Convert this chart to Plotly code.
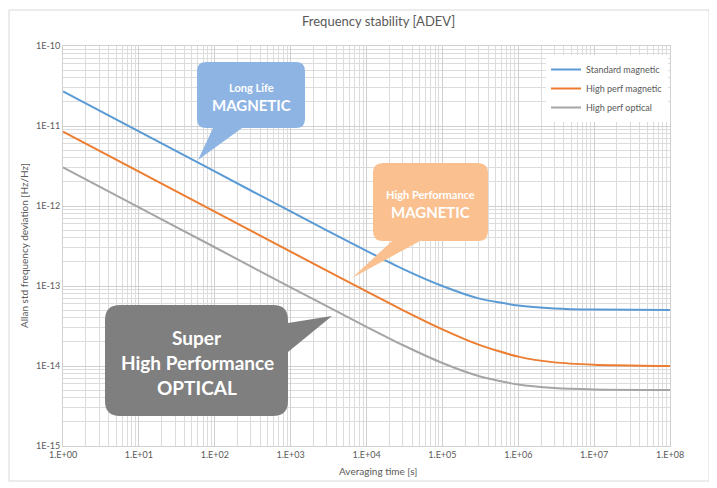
import plotly.graph_objects as go

# ---- data ----
tau = [1, 10, 100, 1e3, 1e4, 3e4, 1e5, 3e5, 1e6, 3e6, 1e7, 1e8]
standard_magnetic = [2.7e-11, 8.54e-12, 2.7e-12, 8.54e-13, 2.75e-13, 1.64e-13, 1.0e-13, 7.0e-14, 5.7e-14, 5.24e-14, 5.07e-14, 5.0e-14]
high_perf_magnetic = [8.5e-12, 2.69e-12, 8.5e-13, 2.69e-13, 8.56e-14, 5.0e-14, 2.87e-14, 1.85e-14, 1.31e-14, 1.11e-14, 1.04e-14, 1.0e-14]
high_perf_optical = [3.05e-12, 9.6e-13, 3.05e-13, 9.6e-14, 3.09e-14, 1.83e-14, 1.09e-14, 7.5e-15, 5.86e-15, 5.3e-15, 5.09e-15, 5.0e-15]

series_names = ["Standard magnetic", "High perf magnetic", "High perf optical"]
series_colors = ["#5B9BD5", "#ED7D31", "#A5A5A5"]

x_tickvals = [1, 10, 100, 1e3, 1e4, 1e5, 1e6, 1e7, 1e8]
x_ticktext = ["1.E+00", "1.E+01", "1.E+02", "1.E+03", "1.E+04", "1.E+05", "1.E+06", "1.E+07", "1.E+08"]
y_tickvals = [1e-15, 1e-14, 1e-13, 1e-12, 1e-11, 1e-10]
y_ticktext = ["1E-15", "1E-14", "1E-13", "1E-12", "1E-11", "1E-10"]

OFF = 8  # default page body margin
W, H = 717 - OFF, 488 - OFF
L, R, T, B = 63, 670, 46, 446  # plot area in page pixels

def px(x):
    return (x - L) / (R - L)

def py(y):
    return (B - y) / (B - T)

FONT = "Lato, Open Sans, sans-serif"
TXT = "#595959"

fig = go.Figure()
for name, vals, col in zip(series_names, [standard_magnetic, high_perf_magnetic, high_perf_optical], series_colors):
    fig.add_trace(go.Scatter(x=tau, y=vals, mode="lines", name=name,
                             line=dict(color=col, width=2, shape="spline", smoothing=0.6)))

def callout(rect, r, pointer, color, side="bottom"):
    x0, y0, x1, y1 = rect
    if side == "bottom":
        (bx0, bx1), tip = pointer
        pts = (f"M {px(x0+r)} {py(y0)} L {px(x1-r)} {py(y0)} Q {px(x1)} {py(y0)} {px(x1)} {py(y0+r)} "
               f"L {px(x1)} {py(y1-r)} Q {px(x1)} {py(y1)} {px(x1-r)} {py(y1)} "
               f"L {px(bx1)} {py(y1)} L {px(tip[0])} {py(tip[1])} L {px(bx0)} {py(y1)} "
               f"L {px(x0+r)} {py(y1)} Q {px(x0)} {py(y1)} {px(x0)} {py(y1-r)} "
               f"L {px(x0)} {py(y0+r)} Q {px(x0)} {py(y0)} {px(x0+r)} {py(y0)} Z")
    else:
        (by0, by1), tip = pointer
        pts = (f"M {px(x0+r)} {py(y0)} L {px(x1-r)} {py(y0)} Q {px(x1)} {py(y0)} {px(x1)} {py(y0+r)} "
               f"L {px(x1)} {py(by0)} L {px(tip[0])} {py(tip[1])} L {px(x1)} {py(by1)} "
               f"L {px(x1)} {py(y1-r)} Q {px(x1)} {py(y1)} {px(x1-r)} {py(y1)} "
               f"L {px(x0+r)} {py(y1)} Q {px(x0)} {py(y1)} {px(x0)} {py(y1-r)} "
               f"L {px(x0)} {py(y0+r)} Q {px(x0)} {py(y0)} {px(x0+r)} {py(y0)} Z")
    fig.add_shape(type="path", xref="paper", yref="paper", path=pts,
                  fillcolor=color, line=dict(width=0), layer="above")

callout((197, 62, 305, 128), 9, ((213, 242), (198, 160)), "#8EB4E3")
callout((373, 163, 488, 241), 10, ((392, 420), (352, 278)), "#FAC090")
callout((105, 305, 288, 416), 15, ((323, 352), (332, 316)), "#7F7F7F", side="right")

def label(x, y, text, size):
    fig.add_annotation(x=px(x), y=py(y), xref="paper", yref="paper", text=text, showarrow=False,
                       font=dict(family=FONT, size=size, color="white", weight="bold"),
                       xanchor="center", yanchor="middle")

label(251, 87, "Long Life", 11)
label(251, 105, "MAGNETIC", 15)
label(430, 194, "High Performance", 11)
label(430, 212, "MAGNETIC", 15)
label(197, 337, "Super", 19)
label(197, 362, "High Performance", 19)
label(197, 387, "OPTICAL", 19)

# outer chart border
fig.add_shape(type="rect", xref="paper", yref="paper", x0=px(9), x1=px(709), y0=py(481), y1=py(10),
              line=dict(color="#D9D9D9", width=1), fillcolor="rgba(0,0,0,0)", layer="below")

# titles
fig.add_annotation(x=px(378), y=py(21), xref="paper", yref="paper", text="Frequency stability [ADEV]",
                   showarrow=False, font=dict(family=FONT, size=13, color=TXT), xanchor="center", yanchor="middle")
fig.add_annotation(x=px(378), y=py(471), xref="paper", yref="paper", text="Averaging time [s]",
                   showarrow=False, font=dict(family=FONT, size=10, color=TXT), xanchor="center", yanchor="middle")
fig.add_annotation(x=px(24), y=py(246), xref="paper", yref="paper", text="Allan std frequency deviation [Hz/Hz]",
                   showarrow=False, textangle=-90, font=dict(family=FONT, size=10, color=TXT),
                   xanchor="center", yanchor="middle")

grid_major = "#D0D0D0"
grid_minor = "#DCDCDC"
fig.update_xaxes(type="log", range=[0, 8], tickvals=x_tickvals, ticktext=x_ticktext,
                 showgrid=True, gridcolor=grid_major, gridwidth=1, zeroline=False,
                 showline=True, linecolor=grid_major, mirror=True,
                 tickfont=dict(family=FONT, size=9, color=TXT), ticks="",
                 minor=dict(dtick="D1", showgrid=True, gridcolor=grid_minor, ticks=""))
fig.update_yaxes(type="log", range=[-15, -10], tickvals=y_tickvals, ticktext=y_ticktext,
                 showgrid=True, gridcolor=grid_major, gridwidth=1, zeroline=False,
                 showline=True, linecolor=grid_major, mirror=True,
                 tickfont=dict(family=FONT, size=9, color=TXT), ticks="",
                 minor=dict(dtick="D1", showgrid=True, gridcolor=grid_minor, ticks=""))

fig.update_layout(
    width=W, height=H,
    margin=dict(l=L - OFF, r=W - (R - OFF), t=T - OFF, b=H - (B - OFF)),
    paper_bgcolor="white", plot_bgcolor="white",
    font=dict(family=FONT, color=TXT),
    showlegend=True,
    legend=dict(x=px(546), y=py(55), xanchor="left", yanchor="top", bgcolor="white",
                font=dict(family=FONT, size=9, color=TXT), itemwidth=30, tracegroupgap=0),
)

fig.write_html("out.html")
